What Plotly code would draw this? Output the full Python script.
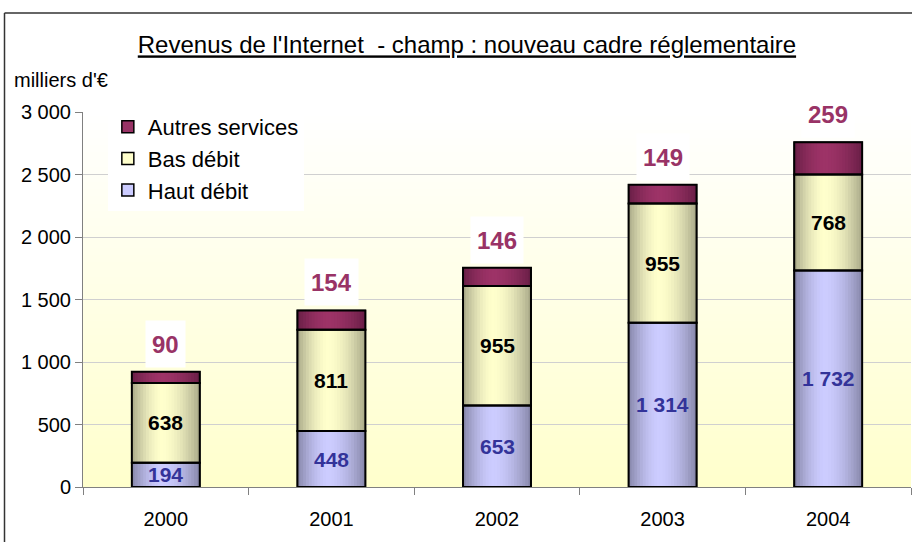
import zlib, struct, base64
import plotly.graph_objects as go

# ---------------- data ----------------
years = ["2000", "2001", "2002", "2003", "2004"]
haut_debit = [194, 448, 653, 1314, 1732]
bas_debit = [638, 811, 955, 955, 768]
autres_services = [90, 154, 146, 149, 259]
series_names = ["Haut débit", "Bas débit", "Autres services"]
y_ticks = [0, 500, 1000, 1500, 2000, 2500, 3000]
y_tick_labels = ["0", "500", "1 000", "1 500", "2 000", "2 500", "3 000"]

title_text = "Revenus de l'Internet  - champ : nouveau cadre réglementaire"
unit_text = "milliers d'€"

# ---------------- styles ----------------
FONT = "Liberation Sans, Arial, sans-serif"
BAR_W = 0.41
N_SLICES = 24
peak_cols = [(204, 204, 255), (255, 255, 204), (157, 51, 103)]
edge_cols = [(134, 134, 168), (168, 168, 136), (104, 30, 70)]
solid_cols = ["#ccccff", "#ffffcc", "#993366"]
label_cols = ["#333399", "#000000", "#993366"]


def fmt(v):
    return f"{v:,}".replace(",", " ")


def grad_color(s, t):
    p = 0.45
    d = (t - p) / p if t < p else (t - p) / (1 - p)
    f = max(0.0, 1 - abs(d) ** 1.7)
    e, c = edge_cols[s], peak_cols[s]
    r, g, b = [round(e[k] + (c[k] - e[k]) * f) for k in range(3)]
    return f"rgb({r},{g},{b})"


def png_gradient(h, top, bottom):
    rows = b""
    for i in range(h):
        t = i / (h - 1)
        rows += b"\x00" + bytes([round(top[k] + (bottom[k] - top[k]) * t) for k in range(3)])

    def chunk(tag, data):
        c = struct.pack(">I", len(data)) + tag + data
        return c + struct.pack(">I", zlib.crc32(tag + data) & 0xFFFFFFFF)

    png = (b"\x89PNG\r\n\x1a\n"
           + chunk(b"IHDR", struct.pack(">IIBBBBB", 1, h, 8, 2, 0, 0, 0))
           + chunk(b"IDAT", zlib.compress(rows))
           + chunk(b"IEND", b""))
    return "data:image/png;base64," + base64.b64encode(png).decode()


series = [haut_debit, bas_debit, autres_services]
bases = []
acc = [0] * len(years)
for vals in series:
    bases.append(list(acc))
    acc = [a + v for a, v in zip(acc, vals)]
totals = acc

fig = go.Figure()

# legend / base layer
for s, vals in enumerate(series):
    fig.add_trace(go.Bar(
        x=years, y=vals, base=bases[s], name=series_names[s],
        width=BAR_W, offset=-BAR_W / 2,
        marker=dict(color=solid_cols[s], line=dict(color="black", width=1.5)),
        hoverinfo="skip"))

# gradient slices
for s, vals in enumerate(series):
    sw = BAR_W / N_SLICES
    for i in range(N_SLICES):
        off = -BAR_W / 2 + i * sw
        w = min(sw * 1.6, BAR_W / 2 - off)
        fig.add_trace(go.Bar(
            x=years, y=vals, base=bases[s], width=w, offset=off,
            marker=dict(color=grad_color(s, (i + 0.5) / N_SLICES), line=dict(width=0)),
            showlegend=False, hoverinfo="skip"))

# outlines
for s, vals in enumerate(series):
    fig.add_trace(go.Bar(
        x=years, y=vals, base=bases[s], width=BAR_W, offset=-BAR_W / 2,
        marker=dict(color="rgba(0,0,0,0)", line=dict(color="black", width=2)),
        showlegend=False, hoverinfo="skip"))

annotations = []
for j, yr in enumerate(years):
    for s in (0, 1):
        annotations.append(dict(
            x=j, y=bases[s][j] + series[s][j] / 2, text="<b>" + fmt(series[s][j]) + "</b>",
            showarrow=False, xref="x", yref="y",
            font=dict(family=FONT, size=21, color=label_cols[s])))
    annotations.append(dict(
        x=j, y=totals[j], text="<b>" + fmt(autres_services[j]) + "</b>", showarrow=False,
        xref="x", yref="y", yanchor="bottom", yshift=4,
        bgcolor="white", borderpad=6, height=34,
        font=dict(family=FONT, size=24, color=label_cols[2])))

annotations.append(dict(
    x=-0.0857, y=1.0853, xref="paper", yref="paper", xanchor="left", yanchor="middle",
    text=unit_text, showarrow=False, font=dict(family=FONT, size=20, color="black")))

fig.update_layout(
    width=912, height=542,
    margin=dict(l=83, r=1, t=112, b=55),
    paper_bgcolor="white",
    plot_bgcolor="rgba(0,0,0,0)",
    barmode="overlay",
    font=dict(family=FONT, size=20, color="black"),
    title=dict(text="<u>" + title_text + "</u>", x=0.512, xref="container", xanchor="center",
               y=1 - 45 / 542, yref="container", yanchor="middle",
               font=dict(family=FONT, size=24, color="black")),
    xaxis=dict(type="category", categoryorder="array", categoryarray=years,
               tickson="boundaries", ticks="outside", ticklen=7, tickcolor="#808080",
               ticklabelstandoff=14,
               showline=True, linecolor="#808080", linewidth=1, showgrid=False,
               tickfont=dict(family=FONT, size=20, color="black"), range=[-0.5, 4.5]),
    yaxis=dict(range=[0, 3000], tickvals=y_ticks, ticktext=y_tick_labels,
               ticks="outside", ticklen=7, tickcolor="#808080",
               showline=True, linecolor="#808080", linewidth=1,
               showgrid=True, gridcolor="#d0d0d0", gridwidth=1, zeroline=False,
               tickfont=dict(family=FONT, size=20, color="black")),
    legend=dict(x=0.03, y=1.016, xanchor="left", yanchor="top", bgcolor="white",
                traceorder="reversed", font=dict(family=FONT, size=22, color="black")),
    annotations=annotations,
    images=[dict(source=png_gradient(256, (255, 255, 255), (255, 255, 204)),
                 xref="paper", yref="paper", x=0, y=1, sizex=1, sizey=1,
                 sizing="stretch", layer="below", xanchor="left", yanchor="top")],
    shapes=[
        dict(type="line", xref="paper", yref="paper", x0=-0.0948, x1=-0.0948, y0=1.264, y1=-0.2,
             line=dict(color="#333333", width=1.5)),
        dict(type="line", xref="paper", yref="paper", x0=-0.0948, x1=1.01, y0=1.264, y1=1.264,
             line=dict(color="#333333", width=1.5)),
    ],
)

fig.write_html("out.html", config={"displayModeBar": False},
               post_script="document.body.style.margin='0';")
